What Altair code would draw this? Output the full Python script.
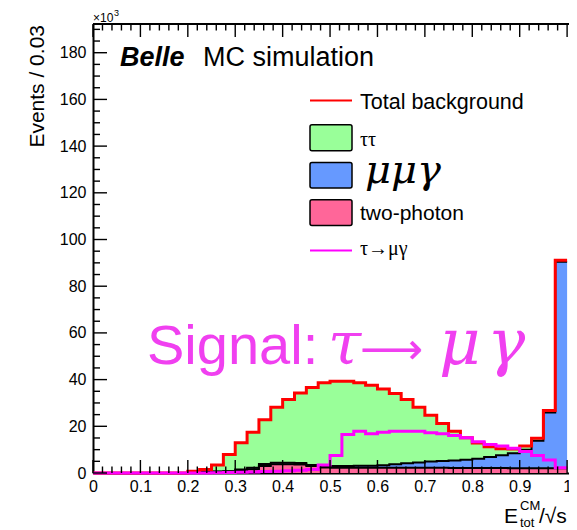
import altair as alt
import pandas as pd

# ---------------- data (values in units of 10^3 events) ----------------
bin_lo = [0.0, 0.025, 0.05, 0.075, 0.1, 0.125, 0.15, 0.175,
          0.2, 0.225, 0.25, 0.275, 0.3, 0.325, 0.35, 0.375,
          0.4, 0.425, 0.45, 0.475, 0.5, 0.525, 0.55, 0.575,
          0.6, 0.625, 0.65, 0.675, 0.7, 0.725, 0.75, 0.775,
          0.8, 0.825, 0.85, 0.875, 0.9, 0.925, 0.95, 0.975]
bin_end = 1.0

two_photon = [0, 0, 0, 0, 0, 0, 0, 0,
              0.3, 0.4, 0.5, 0.6, 1.0, 1.6, 3.0, 3.8,
              3.8, 3.6, 3.0, 2.4, 2.3, 2.3, 2.3, 2.3,
              2.3, 2.3, 2.2, 2.2, 2.2, 2.2, 2.1, 2.1,
              2.1, 2.1, 2.1, 2.0, 2.0, 2.0, 2.0, 2.0]
mumugamma = [0, 0, 0, 0, 0, 0, 0, 0,
             0.0, 0.1, 0.1, 0.2, 0.5, 0.6, 0.9, 0.6,
             0.6, 0.7, 0.4, 0.6, 0.7, 0.7, 0.8, 0.8,
             1.0, 1.5, 2.0, 2.3, 2.7, 2.9, 3.3, 3.6,
             4.0, 4.8, 5.5, 6.5, 8.0, 11.8, 23.9, 88.5]
tautau = [0, 0, 0, 0, 0, 0, 0, 0,
          0.5, 1.0, 2.8, 7.1, 11.5, 15.3, 18.9, 23.8,
          27.1, 30.0, 33.2, 35.6, 36.3, 36.3, 35.5, 34.5,
          32.7, 30.2, 27.3, 23.7, 19.8, 16.1, 12.5, 9.4,
          6.8, 4.3, 2.8, 1.8, 1.6, 1.1, 0.9, 0.6]
signal = [0, 0, 0, 0, 0, 0, 0, 0,
          0, 0, 0.1, 0.2, 0.3, 0.4, 0.6, 0.8,
          1.0, 1.2, 1.5, 3.4, 7.5, 16.5, 17.9, 16.8,
          17.5, 17.9, 17.9, 17.9, 17.2, 16.8, 16.1, 15.1,
          13.4, 12.2, 11.6, 10.6, 9.2, 7.5, 5.6, 2.2]

x_major = [0, 0.1, 0.2, 0.3, 0.4, 0.5, 0.6, 0.7, 0.8, 0.9, 1.0]
x_minor = [0.02, 0.04, 0.06, 0.08, 0.12, 0.14, 0.16, 0.18, 0.22, 0.24, 0.26, 0.28,
           0.32, 0.34, 0.36, 0.38, 0.42, 0.44, 0.46, 0.48, 0.52, 0.54, 0.56, 0.58,
           0.62, 0.64, 0.66, 0.68, 0.72, 0.74, 0.76, 0.78, 0.82, 0.84, 0.86, 0.88,
           0.92, 0.94, 0.96, 0.98]
y_major = [0, 20, 40, 60, 80, 100, 120, 140, 160, 180]
y_minor = [5, 10, 15, 25, 30, 35, 45, 50, 55, 65, 70, 75, 85, 90, 95, 105, 110, 115,
           125, 130, 135, 145, 150, 155, 165, 170, 175, 185, 190]

# ---------------- build table (stacking: two-photon, mumugamma, tautau) -------
xs = bin_lo + [bin_end]
def ext(a):
    return list(a) + [a[-1]]
tp = ext(two_photon)
mm = ext(mumugamma)
tt = ext(tautau)
sg = ext(signal)
s1 = tp
s2 = [a + b for a, b in zip(tp, mm)]
s3 = [a + b for a, b in zip(s2, tt)]
df = pd.DataFrame({"x": xs, "zero": [0.0] * len(xs), "s1": s1, "s2": s2, "s3": s3, "sig": sg})

W, H = 476, 449
XMAX, YMAX = 1.004, 192.3
FONT = "Liberation Sans"
SERIF = "Liberation Serif"
MATH = "DejaVu Serif"

xsc = alt.Scale(domain=[0, XMAX], nice=False, zero=False)
ysc = alt.Scale(domain=[0, YMAX], nice=False)

XAX = alt.Axis(values=x_major, ticks=False, domain=True, domainColor="black", domainWidth=2,
               labelExpr="datum.value == 0 ? '0' : (datum.value == 1 ? '1' : format(datum.value, '.1f'))",
               labelFont=FONT, labelFontSize=16, labelColor="black", labelPadding=5,
               labelFlush=False, labelOverlap=False, labelBound=False, grid=False, title=None)
YAX = alt.Axis(values=y_major, ticks=False, domain=True, domainColor="black", domainWidth=2,
               labelFont=FONT, labelFontSize=16, labelColor="black", labelPadding=7,
               labelOverlap=False, grid=False, title=None)

def X(f):
    return alt.X(f, scale=xsc, axis=XAX)

def Y(f):
    return alt.Y(f, scale=ysc, axis=YAX)

base = alt.Chart(df)
green = base.mark_area(interpolate="step-after", color="#99ff99").encode(x=X("x:Q"), y=Y("s2:Q"), y2="s3:Q")
blue = base.mark_area(interpolate="step-after", color="#6699ff").encode(x=X("x:Q"), y=Y("s1:Q"), y2="s2:Q")
pink = base.mark_area(interpolate="step-after", color="#ff6699").encode(x=X("x:Q"), y=Y("zero:Q"), y2="s1:Q")
l_pink = base.mark_line(interpolate="step-after", color="black", strokeWidth=2).encode(x=X("x:Q"), y=Y("s1:Q"))
l_blue = base.mark_line(interpolate="step-after", color="black", strokeWidth=2).encode(x=X("x:Q"), y=Y("s2:Q"))
l_total = base.mark_line(interpolate="step-after", color="#ff0000", strokeWidth=3).encode(x=X("x:Q"), y=Y("s3:Q"))
l_sig = base.mark_line(interpolate="step-after", color="#ff00ff", strokeWidth=3).encode(x=X("x:Q"), y=Y("sig:Q"))

def xticks(vals, length, top):
    d = pd.DataFrame({"v": vals})
    y0 = 0 if top else H
    y1 = length if top else H - length
    return alt.Chart(d).mark_rule(color="black", strokeWidth=1.4).encode(
        x=X("v:Q"), y=alt.value(y0), y2=alt.value(y1))

def yticks(vals, length):
    d = pd.DataFrame({"v": vals})
    return alt.Chart(d).mark_rule(color="black", strokeWidth=1.4).encode(
        y=Y("v:Q"), x=alt.value(0), x2=alt.value(length))

one = pd.DataFrame({"k": [0]})

def txt(s, x, y, size, font=FONT, style="normal", weight="normal", color="black", align="left", angle=0, baseline="alphabetic"):
    kw = dict(text=s, font=font, fontSize=size, fontStyle=style, fontWeight=weight, color=color,
              align=align, baseline=baseline)
    if angle:
        kw["angle"] = angle
    return alt.Chart(one).mark_text(**kw).encode(x=alt.value(x), y=alt.value(y))

def box(x0, x1, y0, y1, fill):
    return alt.Chart(one).mark_rect(fill=fill, stroke="black", strokeWidth=1.5, cornerRadius=2).encode(
        x=alt.value(x0), x2=alt.value(x1), y=alt.value(y0), y2=alt.value(y1))

def hline(x0, x1, y, color, w):
    return alt.Chart(one).mark_rule(color=color, strokeWidth=w).encode(
        x=alt.value(x0), x2=alt.value(x1), y=alt.value(y))

frame_top = hline(0, W, 0, "black", 2)
SIGC = "#f040f0"

layers = [
    green, blue, pink, l_pink, l_blue, l_total, l_sig,
    xticks(x_major, 13, False), xticks(x_minor, 6.5, False),
    xticks(x_major, 13, True), xticks(x_minor, 6.5, True),
    yticks(y_major, 14), yticks(y_minor, 7),
    frame_top,
    # axis titles / multiplier
    txt("Events / 0.03", -49.5, 1, 21, angle=270, align="right"),
    txt("×10", 0, -2.5, 12),
    txt("3", 21, -8, 9),
    txt("E", 411, 498.5, 21),
    txt("CM", 427, 485.5, 13),
    txt("tot", 427, 502.5, 13),
    txt("/√s", 446, 498.5, 21),
    # Belle label
    txt("Belle", 27, 41.5, 27, style="italic", weight="bold"),
    txt("MC simulation", 110, 41.5, 27),
    # legend
    hline(217, 259, 76.4, "#ff0000", 2),
    txt("Total background", 267, 85, 21.5),
    box(217, 259, 100.7, 126.7, "#99ff99"),
    txt("ττ", 267, 121.7, 20, font=SERIF),
    box(217, 259, 138.4, 164, "#6699ff"),
    txt("μμγ", 272, 159, 40, font=MATH, style="italic"),
    box(217, 259, 175.7, 201.4, "#ff6699"),
    txt("two-photon", 267, 196.2, 21),
    hline(217, 259, 226.4, "#ff00ff", 2),
    txt("τ→μγ", 267, 231.2, 20, font=SERIF),
    # signal annotation
    txt("Signal:", 54, 340, 56, color=SIGC),
    txt("τ", 235, 340, 60, font=MATH, style="italic", color=SIGC),
    txt("⟶", 267, 340, 44, font="DejaVu Sans", color=SIGC),
    txt("μ", 346, 340, 64, font=MATH, style="italic", color=SIGC),
    txt("γ", 394, 340, 64, font=MATH, style="italic", color=SIGC),
]

chart = alt.layer(*layers).properties(
    width=W, height=H,
    autosize=alt.AutoSizeParams(type="none"),
    padding={"left": 85, "top": 16, "right": 0, "bottom": 57},
).configure_view(stroke=None).configure(background="white")

chart.save("out.html", embed_options={"renderer": "svg", "actions": False})
